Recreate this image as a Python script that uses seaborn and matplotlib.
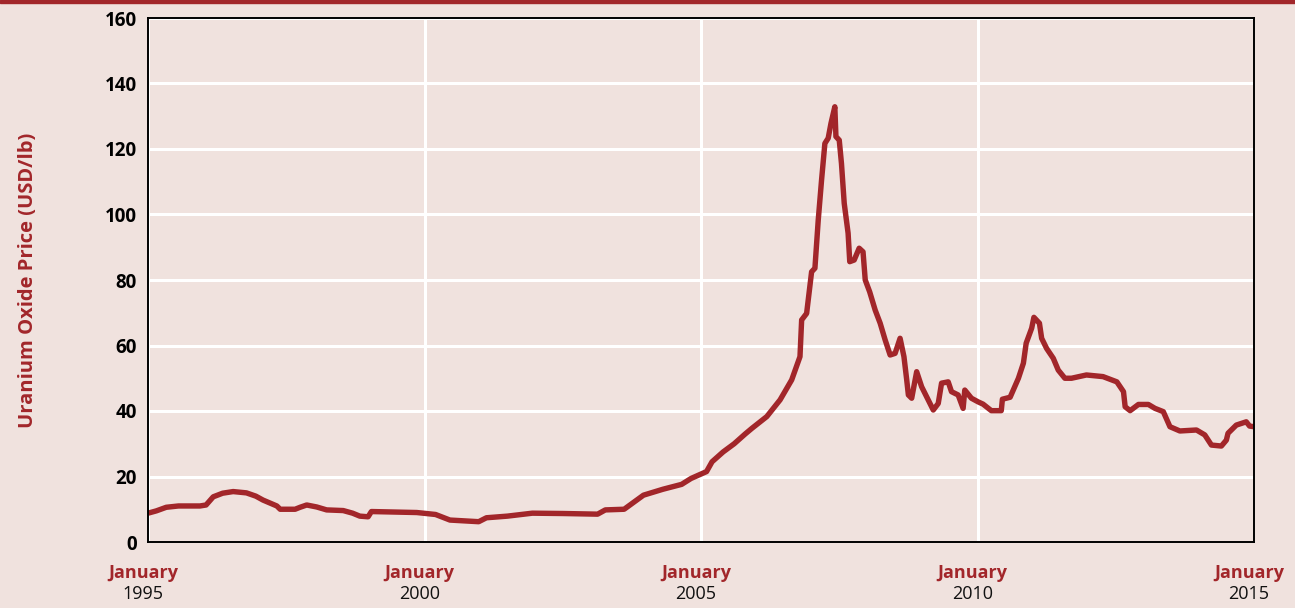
import matplotlib
matplotlib.use("Agg")
import matplotlib.pyplot as plt
import matplotlib.patches as mpatches
import seaborn as sns
import pandas as pd

# ── Data ──────────────────────────────────────────────────────────────────────
years = [
    1995.00, 1995.15, 1995.33, 1995.55, 1995.94, 1996.05, 1996.18, 1996.35, 1996.54,
    1996.78, 1996.95, 1997.08, 1997.33, 1997.39, 1997.66, 1997.75, 1997.87, 1998.05,
    1998.23, 1998.53, 1998.70, 1998.83, 1998.98, 1999.04, 1999.86, 2000.20, 2000.46,
    2000.98, 2001.12, 2001.50, 2001.95, 2002.50, 2003.13, 2003.27, 2003.61, 2003.96,
    2004.31, 2004.65, 2004.82, 2005.10, 2005.20, 2005.40, 2005.60, 2005.80, 2005.92,
    2006.19, 2006.43, 2006.64, 2006.79, 2006.82, 2006.91, 2007.00, 2007.06, 2007.12,
    2007.18, 2007.24, 2007.30, 2007.35, 2007.42, 2007.44, 2007.50, 2007.54, 2007.59,
    2007.66, 2007.69, 2007.77, 2007.86, 2007.93, 2007.97, 2008.05, 2008.15, 2008.24,
    2008.33, 2008.42, 2008.51, 2008.60, 2008.67, 2008.72, 2008.75, 2008.81, 2008.90,
    2008.99, 2009.20, 2009.29, 2009.35, 2009.47, 2009.53, 2009.65, 2009.74, 2009.77,
    2009.89, 2010.01, 2010.10, 2010.25, 2010.43, 2010.45, 2010.59, 2010.74, 2010.83,
    2010.88, 2010.98, 2011.02, 2011.12, 2011.16, 2011.25, 2011.37, 2011.46, 2011.58,
    2011.70, 2011.97, 2012.27, 2012.52, 2012.64, 2012.67, 2012.76, 2012.91, 2013.09,
    2013.21, 2013.36, 2013.48, 2013.66, 2013.96, 2014.11, 2014.23, 2014.41, 2014.50,
    2014.53, 2014.68, 2014.86, 2014.92, 2015.00,
]
prices = [
    8.8, 9.5, 10.6, 11.0, 11.0, 11.3, 13.8, 14.9, 15.4,
    15.0, 14.0, 12.8, 11.0, 10.0, 10.0, 10.6, 11.3, 10.7,
    9.8, 9.6, 8.8, 7.9, 7.7, 9.3, 9.0, 8.4, 6.7,
    6.2, 7.4, 7.9, 8.8, 8.7, 8.5, 9.8, 10.0, 14.3,
    16.1, 17.6, 19.4, 21.5, 24.5, 27.5, 30.0, 33.0, 34.7,
    38.3, 43.4, 49.5, 56.6, 67.8, 69.8, 82.5, 83.6, 98.3,
    110.5, 121.7, 123.3, 127.8, 132.9, 123.8, 122.7, 115.6, 103.4,
    94.3, 85.6, 86.1, 89.7, 88.6, 80.0, 76.4, 70.8, 66.8,
    61.7, 57.1, 57.6, 62.2, 56.6, 49.5, 44.9, 43.9, 52.0,
    47.4, 40.3, 42.3, 48.5, 48.9, 45.9, 44.9, 40.8, 46.4,
    43.9, 42.8, 42.1, 40.1, 40.1, 43.6, 44.2, 50.0, 54.6,
    60.7, 65.3, 68.6, 66.8, 62.2, 59.1, 56.1, 52.5, 50.0,
    50.0, 51.0, 50.5, 48.9, 45.9, 41.3, 40.1, 42.0, 42.0,
    40.8, 39.8, 35.2, 33.9, 34.2, 32.7, 29.6, 29.3, 31.1,
    33.2, 35.7, 36.7, 35.4, 35.2,
]
tick_years = [1995, 2000, 2005, 2010, 2015]
y_ticks = [0, 20, 40, 60, 80, 100, 120, 140, 160]

# ── Style ─────────────────────────────────────────────────────────────────────
BG = "#F0E2DE"
RED = "#A2262A"

sns.set_theme(style="white")
plt.rcParams.update({
    "figure.facecolor": BG,
    "axes.facecolor": BG,
})
plt.rcParams["font.family"] = ["Open Sans", "DejaVu Sans"]

df = pd.DataFrame({"year": years, "price": prices})

fig = plt.figure(figsize=(12.95, 6.08), dpi=100)
ax = fig.add_axes([148 / 1295, 1 - 542 / 608, (1254 - 148) / 1295, (542 - 18) / 608])

sns.lineplot(data=df, x="year", y="price", ax=ax, color=RED, linewidth=3.9,
             solid_joinstyle="round", solid_capstyle="butt", zorder=3)

ax.set_xlim(1995, 2015)
ax.set_ylim(0, 160)
ax.set_yticks(y_ticks)
ax.set_yticklabels([str(v) for v in y_ticks], fontsize=13.5, fontweight="bold", color="black")
ax.tick_params(axis="y", length=0, pad=8)
ax.set_xticks(tick_years)
ax.set_xticklabels([""] * len(tick_years))
ax.tick_params(axis="x", length=0)

ax.grid(True, color="white", linewidth=2.2)
for s in ax.spines.values():
    s.set_color("black")
    s.set_linewidth(1.4)
    s.set_zorder(4)

ax.set_xlabel("")
ax.set_ylabel("Uranium Oxide Price (USD/lb)", fontsize=14.5, fontweight="bold",
              color=RED, labelpad=48)

# two-line x tick labels (offsets in points)
for yr in tick_years:
    ax.annotate("January", xy=(yr, 0), xycoords=("data", "axes fraction"),
                xytext=(-3.6, -22), textcoords="offset points", ha="center", va="center",
                fontsize=13, fontweight="bold", color=RED)
    ax.annotate(str(yr), xy=(yr, 0), xycoords=("data", "axes fraction"),
                xytext=(-3.6, -37.5), textcoords="offset points", ha="center", va="center",
                fontsize=13, color="#111111")

# thin red rule across the top of the figure
fig.patches.append(mpatches.Rectangle((0, 1 - 3 / 608), 1, 3 / 608, transform=fig.transFigure,
                                      color=RED, zorder=5))

fig.savefig("out.png", dpi=100, facecolor=BG)
